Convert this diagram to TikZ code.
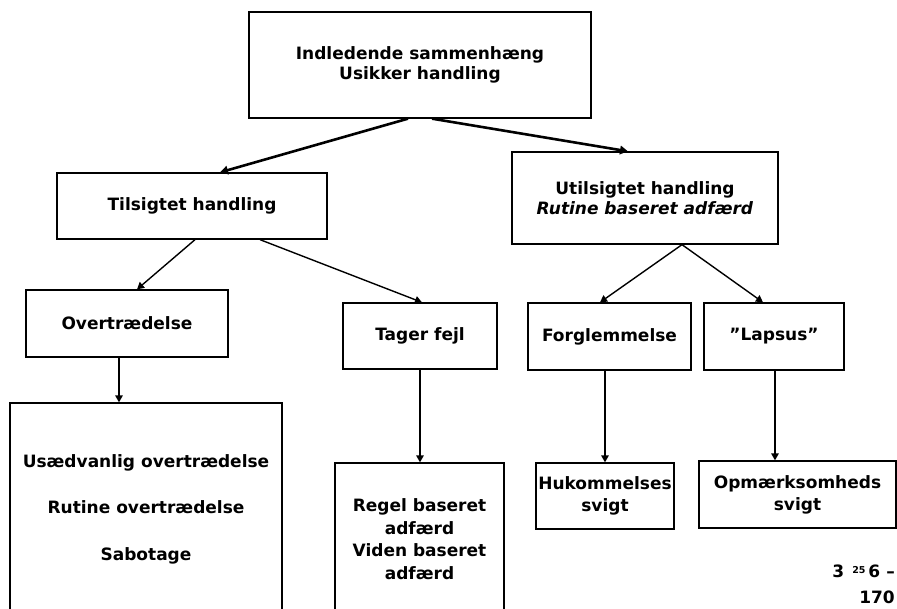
\documentclass[tikz,border=0pt]{standalone}
\usepackage{fontspec}
\setmainfont{DejaVu Sans}
\usetikzlibrary{arrows.meta}
\begin{document}
\begin{tikzpicture}[x=1pt,y=-1pt,
  box/.style={draw, line width=1.3pt, inner sep=0pt, align=center,
    font=\bfseries\fontsize{17}{20}\selectfont},
  thinarrow/.style={line width=1.4pt, -{Triangle[length=7pt,width=7.5pt]}},
  thickarrow/.style={line width=2.6pt, -{Triangle[length=8pt,width=8.5pt]}},
  foot/.style={inner sep=0pt, font=\bfseries\fontsize{17}{20}\selectfont}]
\useasboundingbox (0,0) rectangle (897,608);
\clip (0,0) rectangle (897,608);
\node[box, minimum width=342pt, minimum height=106pt] (top) at (420,65)
  {Indledende sammenhæng\\Usikker handling};
\node[box, minimum width=270pt, minimum height=66pt] (tils) at (192,206)
  {Tilsigtet handling};
\node[box, minimum width=266pt, minimum height=92pt] (utils) at (645,198)
  {Utilsigtet handling\\\textit{Rutine baseret adfærd}};
\node[box, minimum width=202pt, minimum height=67pt] (overt) at (127,323.5)
  {Overtrædelse};
\node[box, minimum width=154pt, minimum height=66pt] (tager) at (420,336)
  {Tager fejl};
\node[box, minimum width=163pt, minimum height=67pt] (forgl) at (609.5,336.5)
  {Forglemmelse};
\node[box, minimum width=140pt, minimum height=67pt] (lapsus) at (774,336.5)
  {”Lapsus”};
\node[box, minimum width=272pt, minimum height=212pt] (big) at (146,509)
  {Usædvanlig overtrædelse\\[26.5pt]Rutine overtrædelse\\[26.5pt]Sabotage};
\node[box, minimum width=169pt, minimum height=152pt,
  font=\bfseries\fontsize{17}{22.5}\selectfont] (regel) at (419.5,539)
  {Regel baseret\\adfærd\\Viden baseret\\adfærd};
\node[box, minimum width=138pt, minimum height=66pt,
  font=\bfseries\fontsize{17}{22}\selectfont] (huk) at (605,496)
  {Hukommelses\\svigt};
\node[box, minimum width=197pt, minimum height=67pt,
  font=\bfseries\fontsize{17}{22}\selectfont] (opm) at (797.5,494.5)
  {Opmærksomheds\\svigt};
\node[foot, anchor=base east] (foot1) at (895,577)
  {3\hspace{8pt}\raisebox{4pt}{\fontsize{9.5}{9.5}\selectfont 25}\hspace{3pt}6\hspace{6pt}–};
\node[foot, anchor=base east] (foot2) at (895,603) {170};
\draw[thickarrow] ([xshift=-12pt]top.south) -- ([xshift=28pt]tils.north);
\draw[thickarrow] ([xshift=12pt]top.south) -- ([xshift=-17pt]utils.north);
\draw[thinarrow] ([xshift=3pt]tils.south) -- ([xshift=10pt]overt.north);
\draw[thinarrow] ([xshift=68pt]tils.south) -- ([xshift=2pt]tager.north);
\draw[thinarrow] ([xshift=37pt]utils.south) -- ([xshift=-9.5pt]forgl.north);
\draw[thinarrow] ([xshift=37pt]utils.south) -- ([xshift=-11pt]lapsus.north);
\draw[thinarrow] ([xshift=-8pt]overt.south) -- ([xshift=-27pt]big.north);
\draw[thinarrow] (tager.south) -- ([xshift=0.5pt]regel.north);
\draw[thinarrow] ([xshift=-4.5pt]forgl.south) -- (huk.north);
\draw[thinarrow] ([xshift=1pt]lapsus.south) -- ([xshift=-22.5pt]opm.north);
\end{tikzpicture}
\end{document}
